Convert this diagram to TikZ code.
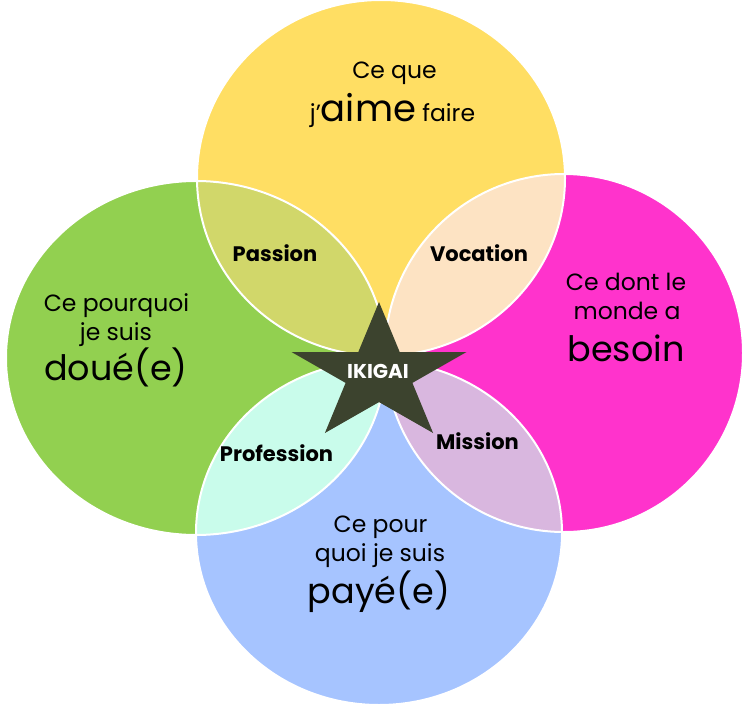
\documentclass[tikz,border=0pt]{standalone}
\usepackage{fontspec}
\setmainfont{Poppins}
\definecolor{cyellow}{HTML}{FFDE63}
\definecolor{cgreen}{HTML}{92D050}
\definecolor{cpink}{HTML}{FF33CC}
\definecolor{cblue}{HTML}{A6C4FF}
\definecolor{cpassion}{HTML}{D1D76A}
\definecolor{cvocation}{HTML}{FDE3C3}
\definecolor{cprofession}{HTML}{C9FCEB}
\definecolor{cmission}{HTML}{D9B7DF}
\definecolor{cstar}{HTML}{3C432E}
\newcommand\ikTxt{\fontsize{23.5}{27}\selectfont}
\newcommand\ikBig{\fontsize{35}{40}\selectfont}
\newcommand\ikLbl{\fontsize{21}{25}\selectfont\bfseries}
\begin{document}
\begin{tikzpicture}[x=1pt,y=-1pt,
  txt/.style={anchor=base,inner sep=0pt,text=black,font=\ikTxt},
  big/.style={anchor=base,inner sep=0pt,text=black,font=\ikBig},
  lbl/.style={anchor=base,inner sep=0pt,text=black,font=\ikLbl},
  rim/.style={draw=white,line width=2pt}]
\useasboundingbox (0,0) rectangle (744,709);
\coordinate (Y) at (381,178);
\coordinate (G) at (196,358);
\coordinate (P) at (564,353);
\coordinate (B) at (379,533);
\def\ellY{(Y) ellipse [x radius=184, y radius=178]}
\def\ellG{(G) ellipse [x radius=190, y radius=177]}
\def\ellP{(P) ellipse [x radius=179, y radius=179]}
\def\ellB{(B) ellipse [x radius=183, y radius=172]}
% circles
\fill[cyellow] \ellY;
\fill[cgreen] \ellG;
\fill[cpink] \ellP;
\fill[cblue] \ellB;
% lenses
\begin{scope}\clip \ellY; \fill[cpassion] \ellG; \end{scope}
\begin{scope}\clip \ellY; \fill[cvocation] \ellP; \end{scope}
\begin{scope}\clip \ellB; \fill[cprofession] \ellG; \end{scope}
\begin{scope}\clip \ellB; \fill[cmission] \ellP; \end{scope}
% white rims
\draw[rim] \ellY;
\draw[rim] \ellG;
\draw[rim] \ellP;
\draw[rim] \ellB;
% star
\fill[cstar] (379,302) -- (358.3,352) -- (291.5,352) -- (345.6,382.9) -- (324.9,433)
  -- (379,402.1) -- (433.1,433) -- (412.4,382.9) -- (466.5,352) -- (399.7,352) -- cycle;
\node[anchor=base,inner sep=0pt,text=white,font=\fontsize{20}{24}\selectfont\bfseries] (ik) at (378,378) {IKIGAI};
% texts
\node[txt] (y1) at (394.5,78) {Ce que};
\node[anchor=base,inner sep=0pt] (y2) at (392.5,121) {\ikTxt j’\fontsize{37}{42}\selectfont aime\ikTxt{} faire};
\node[txt] (g1) at (116.5,311) {Ce pourquoi};
\node[txt] (g2) at (116,340) {je suis};
\node[big] (g3) at (116,380) {doué(e)};
\node[txt] (p1) at (626,290) {Ce dont le};
\node[txt] (p2) at (627,319) {monde a};
\node[big] (p3) at (626,361) {besoin};
\node[txt] (b1) at (380.5,532) {Ce pour};
\node[txt] (b2) at (380,561) {quoi je suis};
\node[big] (b3) at (379,603) {payé(e)};
\node[lbl] (l1) at (275,261) {Passion};
\node[lbl] (l2) at (479,261) {Vocation};
\node[lbl] (l3) at (276.5,461) {Profession};
\node[lbl] (l4) at (477.5,449) {Mission};
\end{tikzpicture}
\end{document}
